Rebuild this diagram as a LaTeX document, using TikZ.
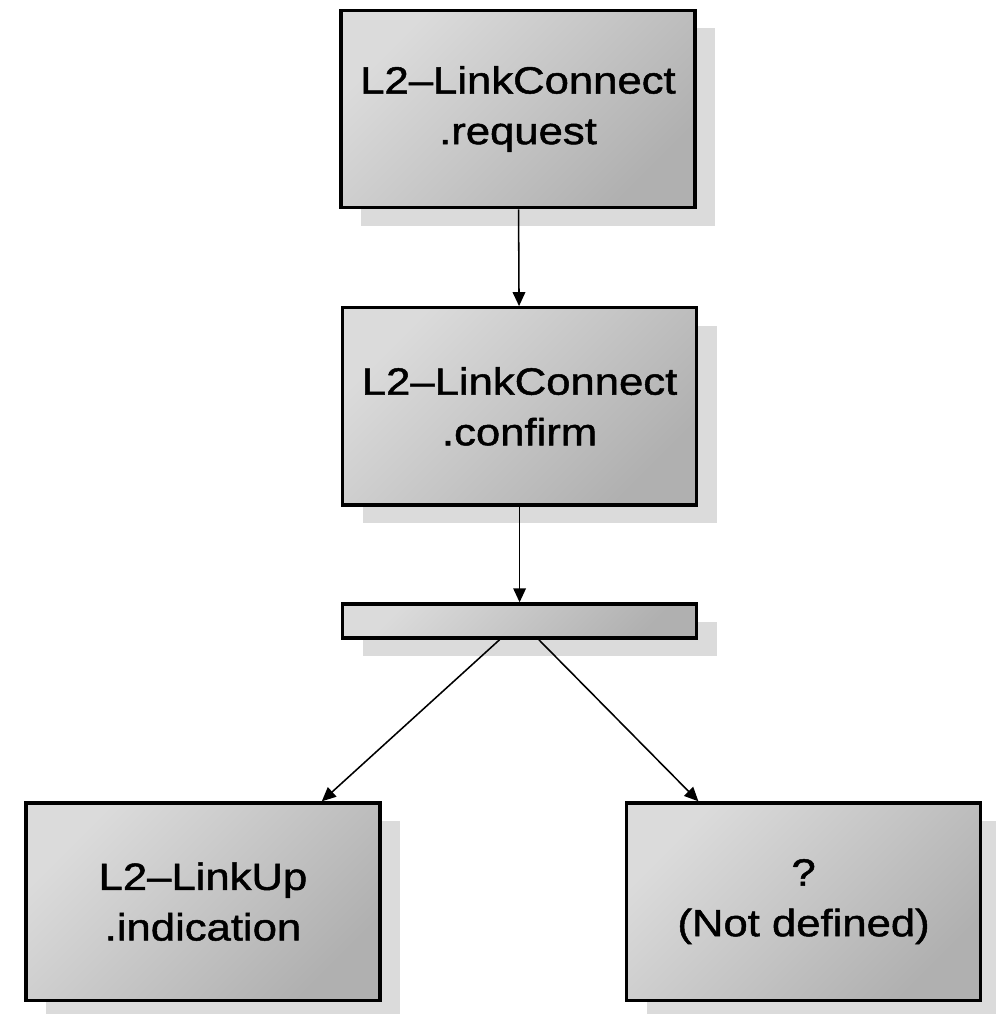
\documentclass[tikz,border=0pt]{standalone}
\usepackage{fontspec}
\setmainfont[FakeStretch=1.15,FakeBold=1.3]{Liberation Sans}
\usepackage{xcolor}
\usetikzlibrary{arrows.meta,shadows}

\begin{document}
\begin{tikzpicture}[
    prim/.style={draw=black, line width=2.4pt, minimum width=8.85cm, minimum height=4.93cm,
      inner sep=0pt, align=center, font=\fontsize{27}{36}\selectfont,
      top color=gray!28, bottom color=gray!62, shading angle=45,
      drop shadow={shadow xshift=0.5cm, shadow yshift=-0.45cm, fill=gray!28, opacity=1}},
    flow/.style={-{Triangle[length=10pt,width=9pt]}, line width=1.1pt}
  ]
  \fill[white] (0,0) rectangle (24.875,-25.35);
  \useasboundingbox (0,0) rectangle (24.875,-25.35);
  \node[prim] (req) at (12.95,-2.725) {L2--LinkConnect\\.request};
  \node[prim] (conf) at (12.99,-10.16) {L2--LinkConnect\\.confirm};
  \node[prim, minimum height=0.85cm] (bar) at (12.99,-15.525) {};
  \node[prim] (up) at (5.075,-22.54) {L2--LinkUp\\.indication};
  \node[prim] (nd) at (20.09,-22.54) {?\\(Not defined)};
  \draw[flow] (req) -- (conf);
  \draw[flow] (conf) -- (bar);
  \draw[flow] ([xshift=-0.5cm]bar.south) -- ([xshift=2.97cm]up.north);
  \draw[flow] ([xshift=0.48cm]bar.south) -- ([xshift=-2.63cm]nd.north);
\end{tikzpicture}
\end{document}
